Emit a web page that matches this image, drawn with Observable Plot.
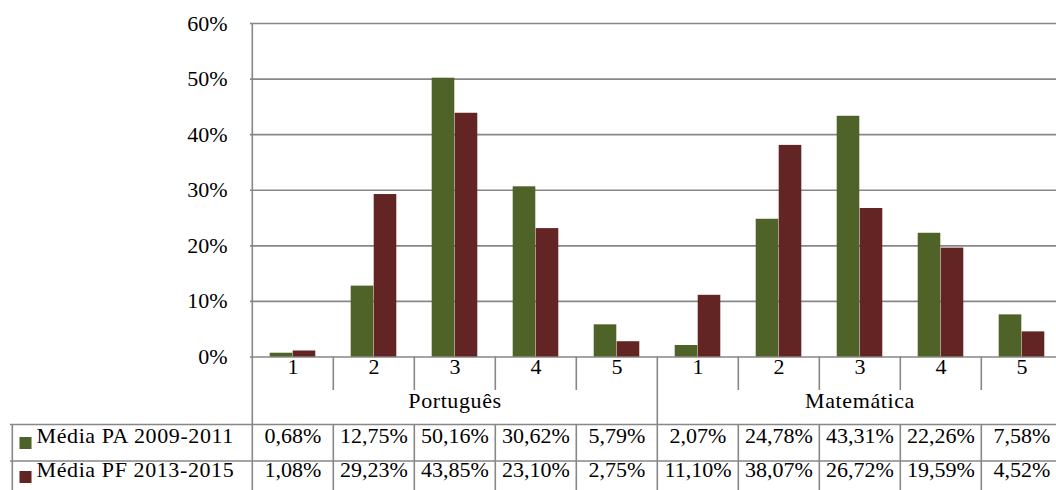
<!DOCTYPE html>
<html>
<head>
<meta charset="utf-8">
<script src="https://cdn.jsdelivr.net/npm/d3@7"></script>
<script src="https://cdn.jsdelivr.net/npm/@observablehq/plot@0.6"></script>
<style>
  html, body { margin: 0; padding: 0; background: #fff; overflow: hidden; }
  svg text { font-family: "Liberation Serif", "Times New Roman", serif !important; }
</style>
</head>
<body>
<div id="chart"></div>
<script>
const subjects = ["Português", "Matemática"];
const scores = ["1", "2", "3", "4", "5"];
const seriesNames = ["Média PA 2009-2011", "Média PF 2013-2015"];
const paValues = [0.68, 12.75, 50.16, 30.62, 5.79, 2.07, 24.78, 43.31, 22.26, 7.58];
const pfValues = [1.08, 29.23, 43.85, 23.10, 2.75, 11.10, 38.07, 26.72, 19.59, 4.52];
const yTicks = [0, 10, 20, 30, 40, 50, 60];
const seriesColors = ["#4F6228", "#632523"];

(function () {
const keys = subjects.flatMap(s => scores.map(c => s + "|" + c));
const rows = keys.map((k, i) => ({key: k, subject: k.split("|")[0], score: k.split("|")[1], pa: paValues[i], pf: pfValues[i]}));
const fmt = v => v.toFixed(2).replace(".", ",") + "%";

const W = 1056, H = 490;
const xLeft = 250, xRight = 1064, yTop = 23, yBottom = 356.5;
const bw = (xRight - xLeft) / keys.length;
const barW = 23;
const lineColor = "#878787";
const font = "Liberation Serif, Times New Roman, serif";
const fs = 22;
const frameH = yBottom - yTop;
const belowH = H - yBottom;
const sw = 1.6;
const T = {fontSize: fs, fontFamily: font, fill: "#000"};

const chart = Plot.plot({
  width: W,
  height: H,
  marginLeft: xLeft,
  marginRight: 0,
  marginTop: yTop,
  marginBottom: belowH,
  style: {fontFamily: font, fontSize: fs + "px", background: "#fff", color: "#000"},
  x: {type: "band", domain: keys, range: [xLeft, xRight], padding: 0, axis: null},
  y: {domain: [0, 60], range: [yBottom, yTop], axis: null},
  marks: [
    Plot.ruleY(yTicks, {y: d => d, stroke: lineColor, strokeWidth: sw}),
    Plot.text(yTicks, {y: d => d, text: d => d + "%", frameAnchor: "left", textAnchor: "end", dx: -23, ...T}),
    Plot.barY(rows, {x: "key", y: "pa", fill: seriesColors[0], insetLeft: bw / 2 - barW, insetRight: bw / 2}),
    Plot.barY(rows, {x: "key", y: "pf", fill: seriesColors[1], insetLeft: bw / 2, insetRight: bw / 2 - barW}),
    Plot.ruleX([keys[0]], {x: d => d, dx: -bw / 2, stroke: lineColor, strokeWidth: sw, insetBottom: -belowH}),
    Plot.ruleX(rows.filter(r => r.score !== "1"), {x: "key", dx: -bw / 2, stroke: lineColor, strokeWidth: sw, insetTop: frameH, insetBottom: -33.5}),
    Plot.ruleX(rows.filter(r => r.score !== "1"), {x: "key", dx: -bw / 2, stroke: lineColor, strokeWidth: sw, insetTop: frameH + 67.5, insetBottom: -belowH}),
    Plot.ruleX(rows.filter(r => r.score === "1" && r.subject !== subjects[0]), {x: "key", dx: -bw / 2, stroke: lineColor, strokeWidth: sw, insetTop: frameH, insetBottom: -belowH}),
    Plot.ruleX([keys[0]], {x: d => d, dx: -bw / 2 - 240, stroke: lineColor, strokeWidth: sw, insetTop: frameH + 67.5, insetBottom: -belowH}),
    Plot.ruleY([0], {y: d => d, dy: 67.5, insetLeft: -240, stroke: lineColor, strokeWidth: sw}),
    Plot.ruleY([0], {y: d => d, dy: 104, insetLeft: -240, stroke: lineColor, strokeWidth: sw}),
    Plot.text(rows, {x: "key", text: "score", frameAnchor: "bottom", dy: 16.5, ...T}),
    Plot.text(subjects, {x: s => s + "|3", text: s => s, frameAnchor: "bottom", dy: 51, ...T}),
    Plot.text(rows, {x: "key", text: r => fmt(r.pa), frameAnchor: "bottom", dy: 85.5, ...T}),
    Plot.text(rows, {x: "key", text: r => fmt(r.pf), frameAnchor: "bottom", dy: 119.5, ...T}),
    Plot.dot([seriesNames[0]], {frameAnchor: "bottom-left", symbol: "square", r: 6.8, fill: seriesColors[0], dx: -225, dy: 86}),
    Plot.dot([seriesNames[1]], {frameAnchor: "bottom-left", symbol: "square", r: 6.8, fill: seriesColors[1], dx: -225, dy: 120}),
    Plot.text([seriesNames[0]], {text: d => d, frameAnchor: "bottom-left", textAnchor: "start", dx: -214, dy: 85.5, ...T}),
    Plot.text([seriesNames[1]], {text: d => d, frameAnchor: "bottom-left", textAnchor: "start", dx: -214, dy: 119.5, ...T})
  ]
});
// widen the legend and subject labels slightly, as in the reference
const wide = new Set([...seriesNames, ...subjects]);
d3.select(chart).selectAll("text").filter(function () { return wide.has(this.textContent); })
  .attr("letter-spacing", "0.6px");
document.getElementById("chart").appendChild(chart);
})();
</script>
</body>
</html>
